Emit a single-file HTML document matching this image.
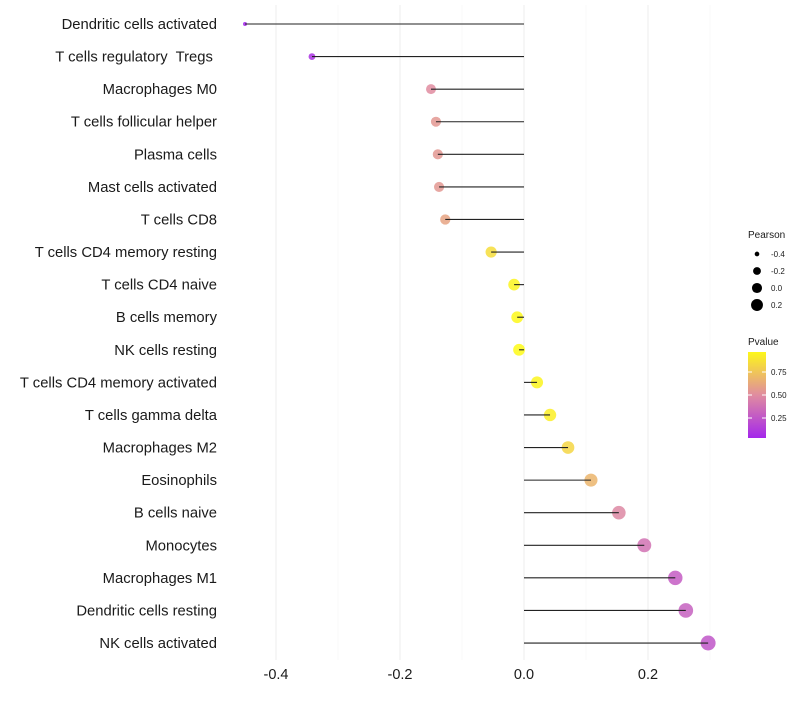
<!DOCTYPE html>
<html><head><meta charset="utf-8"><style>
body{margin:0;background:#fff;font-family:"Liberation Sans",sans-serif}
text{white-space:pre}
</style></head><body>
<svg id="c" width="800" height="700" xmlns="http://www.w3.org/2000/svg"></svg>
<script>
const categories=["Dendritic cells activated","T cells regulatory  Tregs ","Macrophages M0","T cells follicular helper","Plasma cells","Mast cells activated","T cells CD8","T cells CD4 memory resting","T cells CD4 naive","B cells memory","NK cells resting","T cells CD4 memory activated","T cells gamma delta","Macrophages M2","Eosinophils","B cells naive","Monocytes","Macrophages M1","Dendritic cells resting","NK cells activated"];
const pearson=[-0.45,-0.342,-0.15,-0.142,-0.139,-0.137,-0.127,-0.053,-0.016,-0.011,-0.008,0.021,0.042,0.071,0.108,0.153,0.194,0.244,0.261,0.297];
const pvalue=[0.02,0.08,0.5,0.55,0.55,0.55,0.6,0.85,0.95,0.97,0.98,0.95,0.93,0.82,0.68,0.48,0.38,0.28,0.3,0.25];
const xTicks=[-0.4,-0.2,0.0,0.2];
const xTickLabels=["-0.4","-0.2","0.0","0.2"];
const legendSizes=[-0.4,-0.2,0.0,0.2];
const legendP=["0.75","0.50","0.25"];
const NS="http://www.w3.org/2000/svg",svg=document.getElementById('c');
function mk(t,a,p){const e=document.createElementNS(NS,t);for(const k in a)e.setAttribute(k,a[k]);(p||svg).appendChild(e);return e;}
const xs=v=>524+v*620;
const ys=i=>24+i*32.58;
const rs=v=>Math.sqrt(4+(v+0.45)/0.75*52);
function lerp(a,b,t){return a.map((x,i)=>Math.round(x+(b[i]-x)*t));}
function col(p){const s=[[160,32,240],[224,140,160],[255,255,16]];const c=p<0.5?lerp(s[0],s[1],p/0.5):lerp(s[1],s[2],(p-0.5)/0.5);return `rgb(${c})`;}
[-0.3,-0.1,0.1,0.3].forEach(v=>{const g=mk('line',{x1:xs(v),x2:xs(v),y1:5,y2:660,stroke:'#f4f4f4','stroke-width':0.6});});
xTicks.forEach((v,i)=>{const g=mk('line',{x1:xs(v),x2:xs(v),y1:5,y2:660,stroke:'#eeeeee','stroke-width':1});
const t=mk('text',{x:xs(v),y:679,'text-anchor':'middle','font-size':14.5,fill:'#1a1a1a'});t.textContent=xTickLabels[i];});
categories.forEach((c,i)=>{const y=ys(i);
const t=mk('text',{x:217,y:y+5,'text-anchor':'end','font-size':14.8,fill:'#1a1a1a'});t.textContent=c;
const p=mk('circle',{cx:xs(pearson[i]),cy:y,r:rs(pearson[i]),fill:col(pvalue[i]),'fill-opacity':0.85});
const l=mk('line',{x1:xs(0),x2:xs(pearson[i]),y1:y,y2:y,stroke:'#222','stroke-width':1.1});});
let t=mk('text',{x:748,y:238,'font-size':10,fill:'#1a1a1a'});t.textContent='Pearson';
legendSizes.forEach((v,i)=>{const y=254+i*17;const c=mk('circle',{cx:757,cy:y,r:rs(v)*0.85,fill:'#000'});
const tt=mk('text',{x:771,y:y+3,'font-size':8,fill:'#1a1a1a'});tt.textContent=v.toFixed(1);});
t=mk('text',{x:748,y:345,'font-size':10,fill:'#1a1a1a'});t.textContent='Pvalue';
const defs=mk('defs',{});const gr=mk('linearGradient',{id:'g',x1:0,y1:1,x2:0,y2:0},defs);
[[0,0.033],[0.5,0.5],[1,0.967]].forEach(([o,p])=>mk('stop',{offset:o,'stop-color':col(p)},gr));
const bar=mk('rect',{x:748,y:352,width:18,height:86,fill:'url(#g)'});
legendP.forEach((l,i)=>{const y=372+i*23;mk('line',{x1:748,x2:752,y1:y,y2:y,stroke:'#fff'});mk('line',{x1:762,x2:766,y1:y,y2:y,stroke:'#fff'});
const tt=mk('text',{x:771,y:y+3,'font-size':8,fill:'#1a1a1a'});tt.textContent=l;});
</script>
</body></html>
